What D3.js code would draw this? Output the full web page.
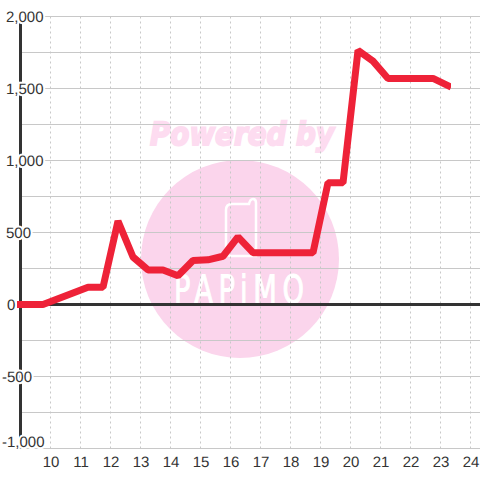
<!DOCTYPE html>
<html>
<head>
<meta charset="utf-8">
<script src="https://d3js.org/d3.v7.min.js"></script>
<style>
    html, body { margin: 0; padding: 0; background: #fff; }
    svg { display: block; font-family: "Liberation Sans", Arial, sans-serif; text-rendering: geometricPrecision; }
    .grid-h { stroke: #c8c8c8; stroke-width: 1; }
    .grid-v { stroke: #c8c8c8; stroke-width: 1; stroke-dasharray: 2 3; }
    .axis-line { stroke: #333; stroke-width: 3; }
    .tick-label { font-size: 15px; fill: #333; }
    .y-label { paint-order: stroke; stroke: #fff; stroke-width: 4px; }
</style>
</head>
<body>
<div id="chart"></div>
<script>
// Hours on the x axis
const xTicks = [10, 11, 12, 13, 14, 15, 16, 17, 18, 19, 20, 21, 22, 23, 24];
const yTicks = [-1000, -500, 0, 500, 1000, 1500, 2000];
const yGridTicks = [-1000, -750, -500, -250, 0, 250, 500, 750, 1000, 1250, 1500, 1750, 2000];

// Series
const hours = [9, 9.75, 10.25, 10.75, 11.25, 11.75, 12.25, 12.75, 13.25, 13.75, 14.25, 14.75,
    15.25, 15.75, 16.25, 16.75, 17.25, 17.75, 18.25, 18.75, 19.25, 19.75, 20.25, 20.75,
    21.25, 21.75, 22.25, 22.75, 23.25];
const values = [0, 0, 40, 80, 120, 120, 580, 330, 240, 240, 200, 305,
    310, 335, 470, 360, 360, 360, 360, 360, 845, 845, 1765, 1690,
    1570, 1570, 1570, 1570, 1520];

const width = 480,
    height = 480;

let svg = d3.select("#chart")
    .append("svg")
    .attr("width", width)
    .attr("height", height);

// Create scales
let xScale = d3.scaleLinear()
    .domain([9, 24])
    .range([20.5, 470.5]);

let yScale = d3.scaleLinear()
    .domain([-1000, 2000])
    .range([448.5, 16.5]);

// Watermark sits under the grid
let watermark = svg.append("g");

watermark.append("circle")
    .attr("cx", 240)
    .attr("cy", 259)
    .attr("r", 99)
    .attr("fill", "#fbd5ec");

watermark.append("text")
    .attr("x", 242)
    .attr("y", 145)
    .attr("text-anchor", "middle")
    .attr("font-size", 32)
    .attr("font-weight", "bold")
    .attr("font-style", "italic")
    .attr("fill", "#fddcf0")
    .attr("stroke", "#fddcf0")
    .attr("stroke-width", 2)
    .attr("font-family", "'DejaVu Sans', sans-serif")
    .attr("textLength", 184)
    .attr("lengthAdjust", "spacingAndGlyphs")
    .text("Powered by");

// Phone outline from the logo
watermark.append("path")
    .attr("d", "M232 204 H249 Q250 199 253 199 Q256 199 256 203 V256 H231 Q226 256 226 251 V210 Q226 204 232 204 Z")
    .attr("fill", "none")
    .attr("stroke", "#fff")
    .attr("stroke-width", 2.5);

// Tall thin letters: squeeze the font sideways and open up the spacing
watermark.append("text")
    .attr("transform", "translate(174, 303) scale(0.7, 1)")
    .attr("font-size", 39)
    .attr("fill", "#fff")
    .attr("stroke", "#fff")
    .attr("stroke-width", 1)
    .attr("letter-spacing", 8)
    .attr("font-family", "'DejaVu Sans', sans-serif")
    .text("PAPiMO");

// Grid lines
svg.append("g")
    .selectAll("line")
    .data(yGridTicks)
    .enter()
    .append("line")
    .attr("class", "grid-h")
    .attr("x1", 20)
    .attr("x2", width)
    .attr("y1", d => yScale(d))
    .attr("y2", d => yScale(d));

svg.append("g")
    .selectAll("line")
    .data(xTicks)
    .enter()
    .append("line")
    .attr("class", "grid-v")
    .attr("x1", d => xScale(d))
    .attr("x2", d => xScale(d))
    .attr("y1", yScale(2000))
    .attr("y2", yScale(-1000));

// Zero line and y axis line
svg.append("line")
    .attr("class", "axis-line")
    .attr("x1", xScale(9))
    .attr("x2", width)
    .attr("y1", yScale(0))
    .attr("y2", yScale(0));

svg.append("line")
    .attr("class", "axis-line")
    .attr("x1", xScale(9))
    .attr("x2", xScale(9))
    .attr("y1", yScale(2000))
    .attr("y2", yScale(-1000));

// Tick labels, the ticks themselves are hidden
let xAxis = d3.axisBottom(xScale)
    .tickValues(xTicks)
    .tickSize(0)
    .tickPadding(0)
    .tickFormat(d3.format("d"));

let xGroup = svg.append("g")
    .attr("transform", "translate(0, 456)")
    .call(xAxis);
xGroup.select(".domain").remove();
xGroup.selectAll("text")
    .attr("class", "tick-label")
    .attr("font-size", null)
    .attr("font-family", null);

let yFormat = d3.format(",");
svg.append("g")
    .selectAll("text")
    .data(yTicks)
    .enter()
    .append("text")
    .attr("class", "tick-label y-label")
    .attr("x", d => d < 0 ? 2 : (d === 0 ? 7 : 6))
    .attr("y", d => d === -1000 ? yScale(d) - 6.5 : yScale(d) + 0.5)
    .attr("dy", "0.35em")
    .text(d => yFormat(d).replace("\u2212", "-"));

// Draw the series last so it covers everything
let line = d3.line()
    .x((d, i) => xScale(hours[i]))
    .y(d => yScale(d));

// The series end is cut off straight in the reference
svg.append("clipPath")
    .attr("id", "series-clip")
    .append("rect")
    .attr("x", 17)
    .attr("y", 0)
    .attr("width", 434)
    .attr("height", height);

svg.append("path")
    .datum(values)
    .attr("fill", "none")
    .attr("stroke", "#ee2238")
    .attr("stroke-width", 7)
    .attr("stroke-linecap", "square")
    .attr("stroke-linejoin", "bevel")
    .attr("clip-path", "url(#series-clip)")
    .attr("d", line);
</script>
</body>
</html>
